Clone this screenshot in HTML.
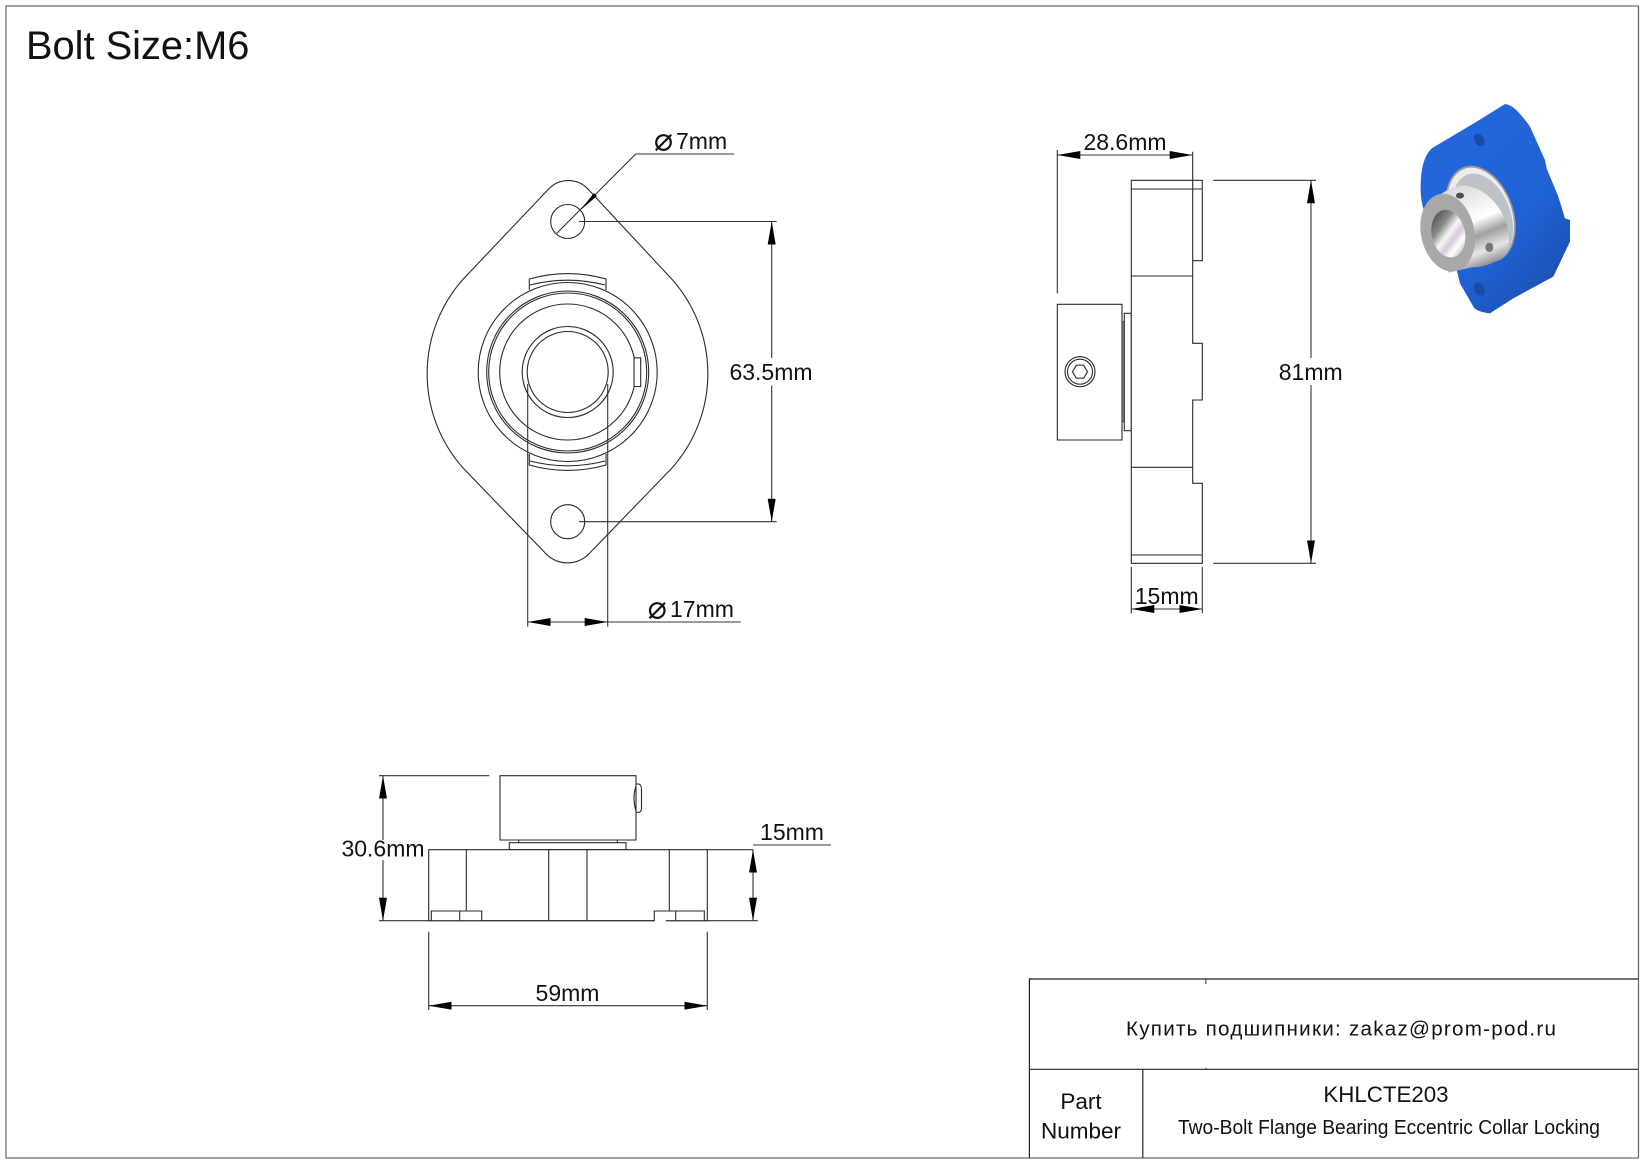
<!DOCTYPE html>
<html><head><meta charset="utf-8"><title>KHLCTE203</title>
<style>
html,body{margin:0;padding:0;background:#fff;width:1647px;height:1165px;overflow:hidden}
svg{display:block}
text{font-family:"Liberation Sans",sans-serif;fill:#111}
.l{fill:none;stroke:#2a2a2a;stroke-width:1.1}
.w{fill:#fff;stroke:#2a2a2a;stroke-width:1.1}
.d{fill:none;stroke:#333;stroke-width:1.1}
.p{font-family:"DejaVu Sans",sans-serif;font-size:32px;text-anchor:middle}
.t{font-size:23px}
.m{text-anchor:middle}
</style></head><body>
<svg width="1647" height="1165" viewBox="0 0 1647 1165" xmlns="http://www.w3.org/2000/svg">
<defs>
<marker id="ar" viewBox="0 0 23 8" refX="23" refY="4" markerWidth="23" markerHeight="8" markerUnits="userSpaceOnUse" orient="auto-start-reverse"><path d="M0 0L23 4L0 8Z" fill="#000"/></marker>
<linearGradient id="edge" x1="0.1" y1="0" x2="0.9" y2="1"><stop offset="0" stop-color="#2468dc"/><stop offset=".6" stop-color="#2062d6"/><stop offset=".85" stop-color="#1c55bb"/><stop offset="1" stop-color="#18479e"/></linearGradient>
<linearGradient id="sil" x1="0.25" y1="0" x2="0.6" y2="1"><stop offset="0" stop-color="#d8d8d8"/><stop offset=".3" stop-color="#f2f2f2"/><stop offset=".45" stop-color="#ffffff"/><stop offset=".62" stop-color="#a0a0a0"/><stop offset=".8" stop-color="#e6e6e6"/><stop offset="1" stop-color="#7a7a7a"/></linearGradient>
<linearGradient id="bore" x1="0.2" y1="0" x2="0.8" y2="1"><stop offset="0" stop-color="#4c4c4c"/><stop offset=".3" stop-color="#8a8a8a"/><stop offset=".5" stop-color="#f6f6f6"/><stop offset=".65" stop-color="#d8c8dc"/><stop offset=".8" stop-color="#ffffff"/><stop offset="1" stop-color="#bdbdbd"/></linearGradient>
</defs>
<rect width="1647" height="1165" fill="#fff"/>
<rect x="6" y="6" width="1632.5" height="1152" fill="none" stroke="#666" stroke-width="1.2"/>
<text x="26" y="59" font-size="39.8">Bolt Size:M6</text>

<!-- Front view -->
<path class="l" d="M548.3 189.4A27 27 0 0 1 588.3 189.4L671.7 279A142 142 0 0 1 671.7 468.3L590 552.8A30 30 0 0 1 545 552.8L463.3 468.3A142 142 0 0 1 463.3 279Z"/>
<circle class="l" cx="567.7" cy="221.5" r="17"/>
<circle class="l" cx="567.7" cy="521.7" r="17"/>
<path class="l" d="M529.3 290V279A140 140 0 0 1 606 279V290"/>
<path class="l" d="M530 285A150 150 0 0 1 605 285"/>
<path class="l" d="M529.3 454V465A140 140 0 0 0 606 465V454"/>
<path class="l" d="M530 461A150 150 0 0 0 605 461"/>
<circle class="w" cx="567.7" cy="372" r="89.5"/>
<circle class="l" cx="567.7" cy="372" r="81"/>
<circle class="l" cx="567.7" cy="372" r="79"/>
<circle class="l" cx="567.7" cy="372" r="68"/>
<path class="w" d="M634 357.8H640.7V386.5H634Z"/>
<circle class="w" cx="567.7" cy="372" r="45.5"/>
<circle class="l" cx="567.7" cy="372" r="40.5"/>
<path class="d" d="M527.7 384V626.5M607.7 384V626.5"/>
<path class="d" d="M607.7 622H740.7"/>
<path class="d" d="M527.7 622H607.7" marker-start="url(#ar)" marker-end="url(#ar)"/>
<path class="d" d="M556.7 233.4L635.7 154H734.3"/>
<path d="M580 210.4L594 193L597 196Z" fill="#000"/>
<text class="p" x="663.5" y="150.5">⌀</text>
<text class="t" x="676" y="149">7mm</text>
<text class="p" x="657.3" y="618.5">⌀</text>
<text class="t" x="670" y="617">17mm</text>
<path class="d" d="M579 221.5H776.7M579 521.7H776.7"/>
<path class="d" d="M771.7 221.5V358" marker-start="url(#ar)"/>
<path class="d" d="M771.7 385.5V521.7" marker-end="url(#ar)"/>
<text class="t m" x="771" y="380">63.5mm</text>

<!-- Side view -->
<path class="w" d="M1057.3 304.3H1122V440H1057.3Z"/>
<path d="M1122 321.7H1124.3V421.7H1122Z" fill="#888" stroke="#333" stroke-width=".8"/>
<path class="w" d="M1124.3 313.3H1131.3V430.7H1124.3Z"/>
<path class="w" d="M1131.3 180.3H1202.3V260.7H1192.7V343.3H1202.3V400H1192.7V483.3H1202.3V563.3H1131.3Z"/>
<path class="l" d="M1131.3 189H1202.3M1131.3 555H1202.3M1131.3 276H1192.7M1131.3 467.3H1192.7M1192.7 151.7V260.7"/>
<circle class="l" cx="1080" cy="371.7" r="15"/>
<circle class="l" cx="1080" cy="371.7" r="12.5"/>
<path class="l" d="M1087.5 371.7L1083.7 378.2H1076.3L1072.5 371.7L1076.3 365.2H1083.7Z"/>
<path class="d" d="M1057.3 150V293.3"/>
<path class="d" d="M1057.3 155H1192.7" marker-start="url(#ar)" marker-end="url(#ar)"/>
<text class="t m" x="1125" y="150">28.6mm</text>
<path class="d" d="M1213.3 180.3H1316M1213.3 563.3H1316"/>
<path class="d" d="M1311 180.3V358" marker-start="url(#ar)"/>
<path class="d" d="M1311 385V563.3" marker-end="url(#ar)"/>
<text class="t m" x="1310.7" y="380">81mm</text>
<path class="d" d="M1131.3 566.7V613.3M1202.3 566.7V613.3"/>
<path class="d" d="M1131.3 609H1202.3" marker-start="url(#ar)" marker-end="url(#ar)"/>
<text class="t m" x="1166.7" y="604">15mm</text>

<!-- 3D render -->
<g transform="translate(1390 90) scale(.3333)">
<path d="M345 42C365 45 385 60 420 110L465 210L470 235L505 320L525 385L540 390L540 455L490 560L370 625L300 670C275 668 255 660 250 650L210 580L200 540L130 430C105 380 92 340 92 300C92 255 95 205 125 175L260 95Z" fill="url(#edge)"/>
<ellipse cx="268" cy="150" rx="14" ry="20" transform="rotate(-30 268 150)" fill="#1a4aa6"/>
<ellipse cx="268" cy="598" rx="15" ry="21" transform="rotate(-30 268 598)" fill="#1a4aa6"/>
<ellipse cx="272" cy="372" rx="98" ry="150" transform="rotate(-20 272 372)" fill="#9a9a9a"/>
<ellipse cx="272" cy="372" rx="93" ry="144" transform="rotate(-20 272 372)" fill="#ececec"/>
<ellipse cx="278" cy="380" rx="84" ry="134" transform="rotate(-20 278 380)" fill="#bcc2c8"/>
<path d="M125 335C165 298 205 280 240 290C310 305 368 395 355 465C345 510 292 532 245 532L175 548Z" fill="url(#sil)"/>
<ellipse cx="173" cy="428" rx="80" ry="118" transform="rotate(-12 173 428)" fill="#a8a8a8"/>
<ellipse cx="175" cy="431" rx="50" ry="72" transform="rotate(-12 175 431)" fill="url(#bore)"/>
<ellipse cx="210" cy="317" rx="12" ry="9" fill="#4e4e4e"/>
<ellipse cx="298" cy="472" rx="12" ry="14" fill="#777"/>
</g>

<!-- Bottom view -->
<path class="w" d="M500 775.7H636V840H500Z"/>
<path class="l" d="M636 784H639Q641.5 785 641.5 790V808Q641.5 812 639 812.3H636M636 786Q632 798 636 811"/>
<path class="w" d="M509.3 842.7H626V849.7H509.3Z"/>
<path class="l" d="M518.7 840V842.7M617.3 840V842.7"/>
<path class="w" d="M428.7 849.7H707.3V920.7H428.7Z"/>
<path class="l" d="M466.3 849.7V911M548.7 849.7V920.7M587 849.7V920.7M669.3 849.7V911"/>
<path class="w" d="M431.3 920.7V911H481.7V920.7"/>
<path class="l" d="M459.7 911V920.7"/>
<path class="w" d="M654.3 920.7V911H704.3V920.7"/>
<path class="l" d="M675.7 911V920.7"/>
<path d="M655 919.5H665.5V922H655Z" fill="#fff"/>
<path class="d" d="M379 775.7H489.3M379 920.7H654.3M666 920.7H757.7"/>
<path class="d" d="M383 775.7V840" marker-start="url(#ar)"/>
<path class="d" d="M383 860V920.7" marker-end="url(#ar)"/>
<text class="t m" x="383" y="856.5">30.6mm</text>
<path class="d" d="M707.3 849.7H753M753 845H831"/>
<path class="d" d="M753 849.7V920.7" marker-start="url(#ar)" marker-end="url(#ar)"/>
<text class="t m" x="792" y="840">15mm</text>
<path class="d" d="M428.7 931.7V1010M707.3 931.7V1010"/>
<path class="d" d="M428.7 1005.7H707.3" marker-start="url(#ar)" marker-end="url(#ar)"/>
<text class="t m" x="567.5" y="1001">59mm</text>

<!-- Title block -->
<path d="M1029.4 1158V979H1638.5M1029.4 1069.3H1638.5M1142.8 1069.3V1158" fill="none" stroke="#222" stroke-width="1.2"/>
<path d="M1205.9 979V984M1205.9 1068V1069.3" stroke="#333" fill="none"/>
<text x="1341" y="1035.5" class="m" font-size="20.6" textLength="430" lengthAdjust="spacing">Купить подшипники: zakaz@prom-pod.ru</text>
<text x="1386" y="1102" class="m" font-size="22.3">KHLCTE203</text>
<text x="1389" y="1134" class="m" font-size="20" textLength="422" lengthAdjust="spacingAndGlyphs">Two-Bolt Flange Bearing Eccentric Collar Locking</text>
<text x="1081" y="1109" class="m" font-size="22.5">Part</text>
<text x="1081" y="1138.5" class="m" font-size="22.5">Number</text>
</svg>
</body></html>
